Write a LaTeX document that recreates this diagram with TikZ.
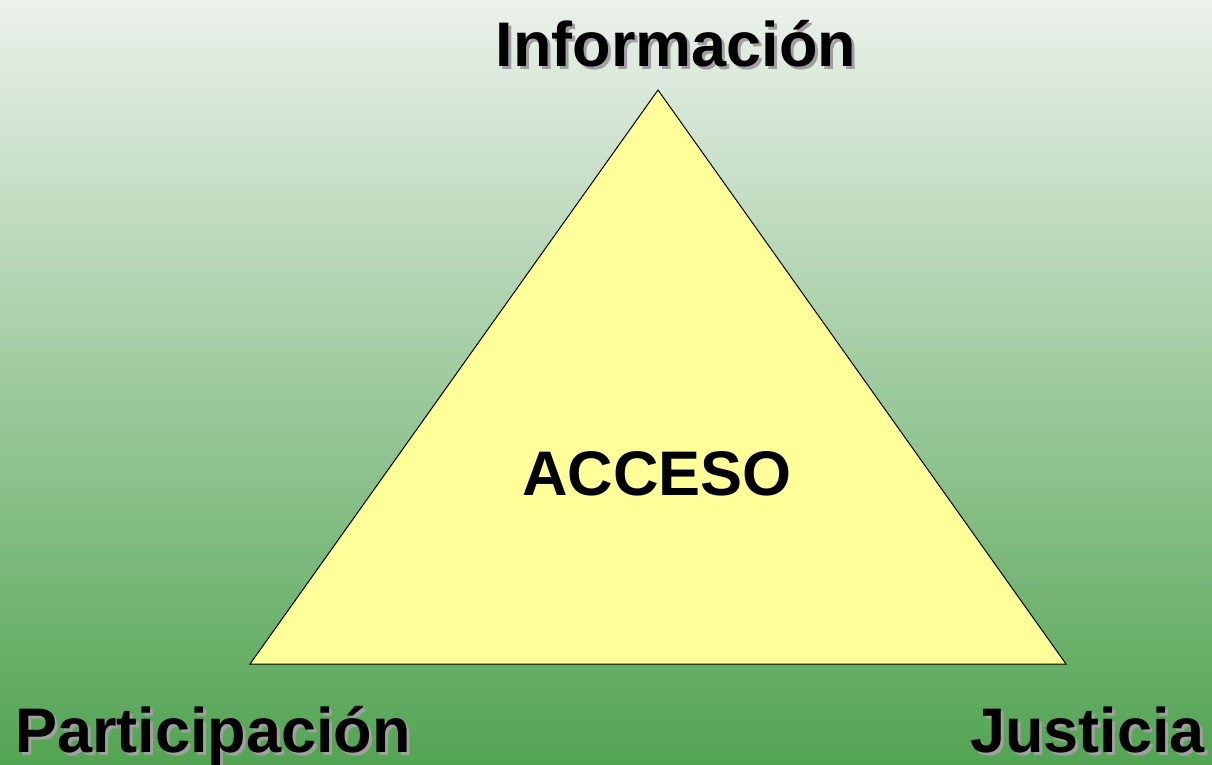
\documentclass[tikz,border=0pt]{standalone}
\usepackage{fontspec}
\setmainfont{Liberation Sans}
\definecolor{bgtop}{HTML}{EBF1EB}
\definecolor{bgbot}{HTML}{52A452}
\definecolor{triyellow}{HTML}{FFFF99}
\definecolor{shadowgray}{HTML}{A0A0A0}
\tikzset{
  lbl/.style={inner sep=0pt, font=\fontsize{63}{70}\selectfont\bfseries, text=black},
  lblshadow/.style={lbl, text=shadowgray},
  tri/.style={draw=black, line width=1pt, fill=triyellow, line join=miter}
}
\begin{document}
\begin{tikzpicture}[x=1pt,y=-1pt]
\useasboundingbox (0,0) rectangle (1212,765);
\shade[top color=bgtop, bottom color=bgbot] (0,0) rectangle (1212,765);
\coordinate (apex) at (658,90);
\coordinate (bl) at (250,664);
\coordinate (br) at (1066,664);
\draw[tri] (apex) -- (bl) -- (br) -- cycle;
\node[lbl, anchor=base] (acceso) at (657,495) {ACCESO};
\node[lblshadow, anchor=base] (infoS) at (679,70) {Información};
\node[lbl, anchor=base] (info) at (676,67) {Información};
\node[lblshadow, anchor=base west] (partS) at (18,755) {Participación};
\node[lbl, anchor=base west] (part) at (15,752) {Participación};
\node[lblshadow, anchor=base east] (justS) at (1208,755) {Justicia};
\node[lbl, anchor=base east] (just) at (1205,752) {Justicia};
\end{tikzpicture}
\end{document}
